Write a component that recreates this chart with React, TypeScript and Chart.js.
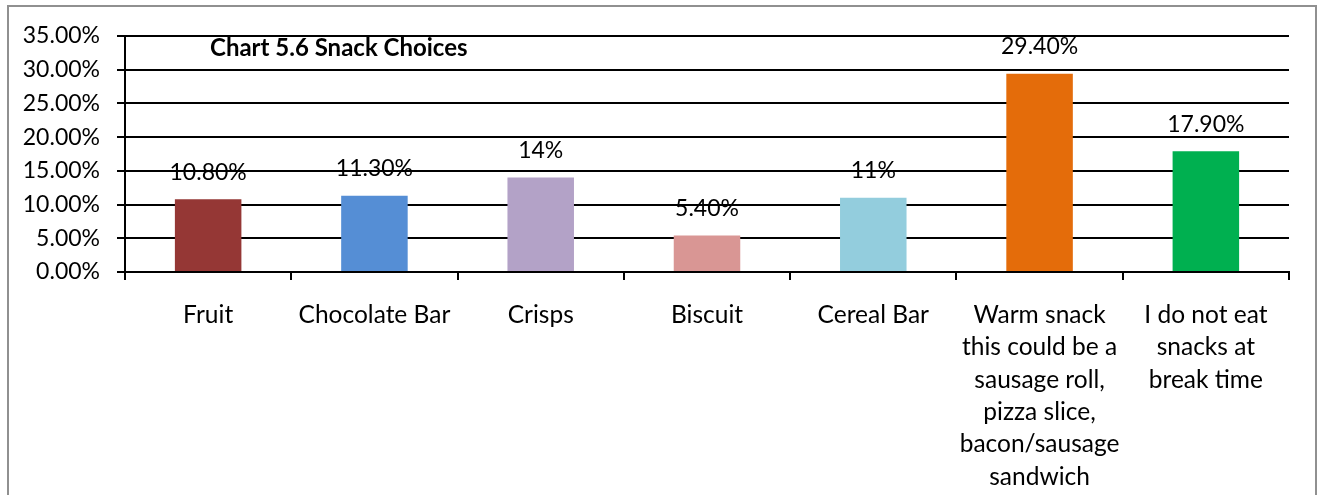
import React, { useEffect, useRef } from "react";
import { Chart, registerables } from "chart.js";
Chart.register(...registerables);

const categories: string[][] = [
  ["Fruit"],
  ["Chocolate Bar"],
  ["Crisps"],
  ["Biscuit"],
  ["Cereal Bar"],
  ["Warm snack", "this could be a", "sausage roll,", "pizza slice,", "bacon/sausage", "sandwich"],
  ["I do not eat", "snacks at", "break time"],
];
const values = [10.8, 11.3, 14, 5.4, 11, 29.4, 17.9];
const valueLabels = ["10.80%", "11.30%", "14%", "5.40%", "11%", "29.40%", "17.90%"];
const barColors = ["#953735", "#558ED5", "#B3A2C7", "#D99694", "#93CDDD", "#E46C0A", "#00B050"];
const yTickLabels = ["0.00%", "5.00%", "10.00%", "15.00%", "20.00%", "25.00%", "30.00%", "35.00%"];
const chartTitle = "Chart 5.6 Snack Choices";

const FONT = "Lato";

const overlayPlugin = {
  id: "overlay",
  afterDatasetsDraw(chart: any) {
    const ctx = chart.ctx;
    const meta = chart.getDatasetMeta(0);
    ctx.save();
    ctx.fillStyle = "#000";
    ctx.font = `23px ${FONT}`;
    ctx.textAlign = "center";
    ctx.textBaseline = "middle";
    meta.data.forEach((el: any, i: number) => {
      ctx.fillText(valueLabels[i], el.x, el.y - 27);
    });
    ctx.font = `bold 24px ${FONT}`;
    ctx.textAlign = "left";
    ctx.fillText(chartTitle, chart.chartArea.left + 85, chart.chartArea.top + 12);
    ctx.restore();
  },
};

export default function App() {
  const ref = useRef<HTMLCanvasElement | null>(null);
  useEffect(() => {
    if (!ref.current) return;
    const chart = new Chart(ref.current, {
      type: "bar",
      data: {
        labels: categories,
        datasets: [
          {
            data: values,
            backgroundColor: barColors,
            borderWidth: 0,
            categoryPercentage: 1,
            barPercentage: 0.4,
          },
        ],
      },
      options: {
        responsive: false,
        animation: false,
        layout: { padding: { top: 36, right: 33, left: 0, bottom: 0 } },
        plugins: {
          legend: { display: false },
          tooltip: { enabled: false },
          title: { display: false },
        },
        scales: {
          x: {
            grid: {
              display: true,
              drawOnChartArea: false,
              drawTicks: true,
              tickLength: 8,
              color: "#000",
              lineWidth: 2,
              offset: true,
            },
            border: { color: "#000", width: 2 },
            ticks: {
              color: "#000",
              font: { family: FONT, size: 24.5, lineHeight: 1.32 },
              padding: 19,
              maxRotation: 0,
              autoSkip: false,
            },
            afterFit: (s: any) => {
              s.height = 223;
            },
          },
          y: {
            min: 0,
            max: 35,
            grid: {
              color: "#000",
              lineWidth: 2,
              drawTicks: true,
              tickLength: 8,
            },
            border: { color: "#000", width: 2 },
            ticks: {
              stepSize: 5,
              color: "#000",
              font: { family: FONT, size: 23 },
              padding: 17,
              callback: (_v: any, i: number) => yTickLabels[i],
            },
            afterFit: (s: any) => {
              s.width = 125;
            },
          },
        },
      },
      plugins: [overlayPlugin],
    });
    return () => chart.destroy();
  }, []);
  return (
    <div
      style={{
        position: "absolute",
        left: 0,
        top: 0,
        width: 1322,
        height: 495,
        overflow: "hidden",
        background: "#fff",
      }}
    >
      <div
        style={{
          position: "absolute",
          left: 7,
          top: 5,
          width: 1310,
          height: 600,
          border: "2px solid #909090",
          boxSizing: "border-box",
        }}
      />
      <canvas ref={ref} width={1322} height={495} style={{ position: "absolute", left: 0, top: 0 }} />
    </div>
  );
}
